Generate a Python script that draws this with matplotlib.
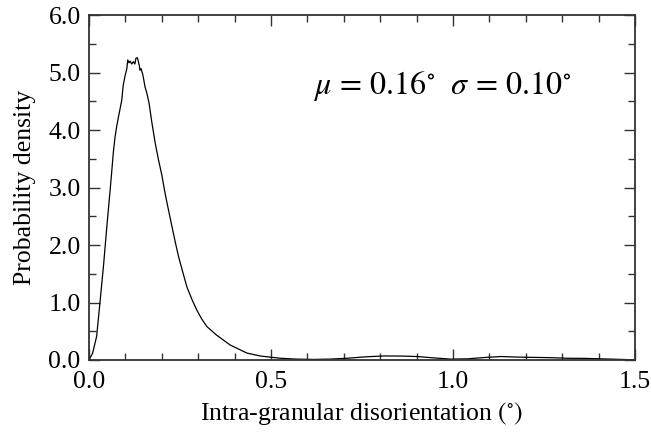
import matplotlib
matplotlib.use("Agg")
import matplotlib.pyplot as plt
from matplotlib.ticker import MultipleLocator, FormatStrFormatter

plt.rcParams['font.family'] = ['Liberation Serif', 'DejaVu Serif']
plt.rcParams['mathtext.fontset'] = 'stix'

disorientation = [0.000, 0.010, 0.021, 0.030, 0.040, 0.049, 0.058, 0.0625, 0.067, 0.0716,
                  0.076, 0.081, 0.090, 0.094, 0.099, 0.104, 0.1065, 0.110, 0.113, 0.1175,
                  0.122, 0.126, 0.129, 0.133, 0.138, 0.140, 0.143, 0.148, 0.154, 0.159,
                  0.165, 0.173, 0.182, 0.191, 0.200, 0.209, 0.218, 0.228, 0.237, 0.246,
                  0.258, 0.269, 0.283, 0.296, 0.310, 0.324, 0.351, 0.388, 0.434, 0.470,
                  0.526, 0.570, 0.617, 0.660, 0.709, 0.760, 0.810, 0.860, 0.902, 0.950,
                  0.994, 1.040, 1.090, 1.131, 1.180, 1.223, 1.270, 1.315, 1.360, 1.407,
                  1.450, 1.497]
density = [0.00, 0.12, 0.41, 0.99, 1.65, 2.32, 2.95, 3.28, 3.62, 3.88,
           4.06, 4.23, 4.52, 4.78, 4.94, 5.07, 5.22, 5.17, 5.20, 5.15,
           5.19, 5.15, 5.25, 5.26, 5.13, 5.04, 5.07, 4.96, 4.75, 4.64,
           4.47, 4.12, 3.77, 3.48, 3.22, 2.90, 2.62, 2.32, 2.05, 1.80,
           1.52, 1.27, 1.05, 0.87, 0.71, 0.58, 0.43, 0.26, 0.12, 0.07,
           0.03, 0.015, 0.01, 0.015, 0.03, 0.055, 0.07, 0.068, 0.06, 0.035,
           0.015, 0.02, 0.045, 0.06, 0.05, 0.045, 0.04, 0.03, 0.028, 0.02,
           0.012, 0.003]

annotation = r'$\mu \,=\, 0.16^{\circ}\ \ \sigma \,=\, 0.10^{\circ}$'

fig = plt.figure(figsize=(6.51, 4.32), dpi=100)
ax = fig.add_axes([0.1367, 0.1667, 0.8388, 0.7983])
ax.plot(disorientation, density, color='black', lw=0.9)

ax.set_xlim(0, 1.5)
ax.set_ylim(0, 6.0)
ax.xaxis.set_major_locator(MultipleLocator(0.5))
ax.xaxis.set_minor_locator(MultipleLocator(0.1))
ax.yaxis.set_major_locator(MultipleLocator(1.0))
ax.yaxis.set_minor_locator(MultipleLocator(0.5))
ax.xaxis.set_major_formatter(FormatStrFormatter('%.1f'))
ax.yaxis.set_major_formatter(FormatStrFormatter('%.1f'))
ax.tick_params(which='both', direction='in', top=True, right=True, color='#333333', width=1.0)
ax.tick_params(which='major', length=8, labelsize=18.5)
ax.tick_params(axis='x', which='major', pad=8)
ax.tick_params(axis='y', which='major', pad=6)
ax.tick_params(which='minor', length=5)
for s in ax.spines.values():
    s.set_color('#333333')
    s.set_linewidth(1.3)

ax.set_xlabel(r'Intra-granular disorientation $(^{\circ})$', fontsize=18.5, labelpad=5)
ax.set_ylabel('Probability density', fontsize=18.5, labelpad=9)
ax.text(0.614, 4.62, annotation, fontsize=23, ha='left', va='baseline')

fig.savefig('out.png', dpi=100)
